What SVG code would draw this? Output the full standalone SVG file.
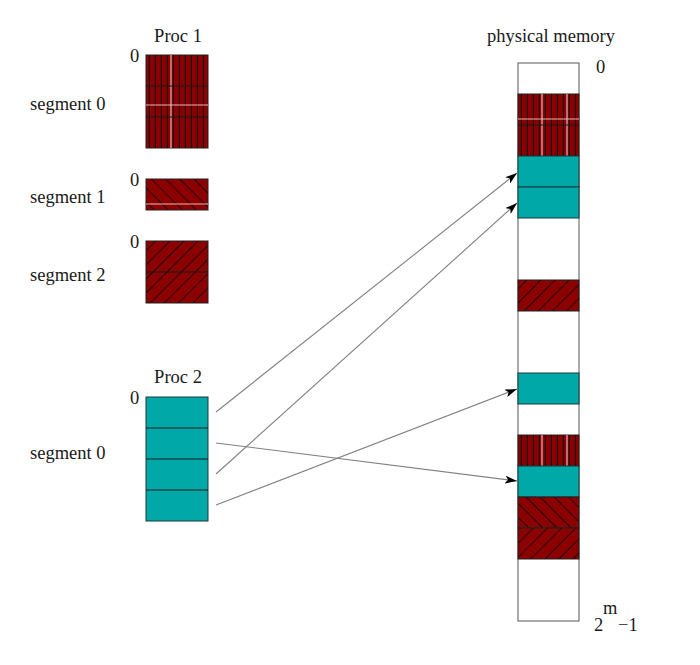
<svg xmlns="http://www.w3.org/2000/svg" width="700" height="665" viewBox="0 0 700 665">
  <style>
    text { font-family: "Liberation Serif", "Times New Roman", serif; font-size: 18.5px; fill: #1a1a1a; }
    .mid { text-anchor: middle; }
    .blk { stroke: #222; stroke-width: 1; }
    .teal { fill: #00a8a8; stroke: #1a3a3a; stroke-width: 1; }
    .white { fill: #ffffff; stroke: #555; stroke-width: 1; }
    .sep { stroke: #1a1a1a; stroke-width: 1.2; }
    .hl { stroke: #e8b8b8; stroke-width: 1.2; }
    .conn { stroke: #808080; stroke-width: 1.1; fill: none; marker-end: url(#arrow); }
  </style>
  <defs>
    <pattern id="vstripe" patternUnits="userSpaceOnUse" width="6" height="10">
      <rect width="6" height="10" fill="#8b0000"/>
      <line x1="5.5" y1="0" x2="5.5" y2="10" stroke="#1a0000" stroke-width="1.3"/>
    </pattern>
    <pattern id="bslash" patternUnits="userSpaceOnUse" width="10" height="10" patternTransform="rotate(-45)">
      <rect width="10" height="10" fill="#8b0000"/>
      <line x1="0.5" y1="0" x2="0.5" y2="10" stroke="#2a0000" stroke-width="1"/>
    </pattern>
    <pattern id="fslash" patternUnits="userSpaceOnUse" width="10" height="10" patternTransform="rotate(45)">
      <rect width="10" height="10" fill="#8b0000"/>
      <line x1="0.5" y1="0" x2="0.5" y2="10" stroke="#2a0000" stroke-width="1"/>
    </pattern>
    <marker id="arrow" viewBox="0 0 12 8" refX="12" refY="4" markerWidth="12" markerHeight="8" markerUnits="userSpaceOnUse" orient="auto">
      <path d="M0,0 L12,4 L0,8 L3,4 Z" fill="#000"/>
    </marker>
  </defs>

  <text class="mid" x="178" y="42">Proc 1</text>
  <text class="mid" x="551" y="42">physical memory</text>
  <text class="mid" x="178" y="383">Proc 2</text>

  <g id="proc1-seg0">
    <text x="130" y="62">0</text>
    <text x="30" y="110">segment 0</text>
    <rect x="146" y="55" width="62" height="93" fill="url(#vstripe)" class="blk"/>
    <line x1="171" y1="55" x2="171" y2="148" class="hl"/>
    <line x1="146" y1="105" x2="208" y2="105" class="hl"/>
    <line x1="146" y1="86" x2="208" y2="86" class="sep"/>
    <line x1="146" y1="117" x2="208" y2="117" class="sep"/>
  </g>

  <g id="proc1-seg1">
    <text x="130" y="186">0</text>
    <text x="30" y="203">segment 1</text>
    <rect x="146" y="179" width="62" height="31" fill="url(#bslash)" class="blk"/>
    <line x1="146" y1="204" x2="208" y2="204" class="hl"/>
  </g>

  <g id="proc1-seg2">
    <text x="130" y="248">0</text>
    <text x="30" y="281">segment 2</text>
    <rect x="146" y="241" width="62" height="62" fill="url(#fslash)" class="blk"/>
    <line x1="146" y1="272" x2="208" y2="272" class="sep"/>
  </g>

  <g id="proc2-seg0">
    <text x="130" y="404">0</text>
    <text x="30" y="459">segment 0</text>
    <rect x="146" y="397" width="62" height="124" class="teal"/>
    <line x1="146" y1="428" x2="208" y2="428" class="sep"/>
    <line x1="146" y1="459" x2="208" y2="459" class="sep"/>
    <line x1="146" y1="490" x2="208" y2="490" class="sep"/>
  </g>

  <g id="memory">
    <text x="596" y="73">0</text>
    <rect x="518" y="63" width="61" height="558" class="white"/>
    <rect x="518" y="94" width="61" height="62" fill="url(#vstripe)" class="blk"/>
    <line x1="542" y1="94" x2="542" y2="156" class="hl"/>
    <line x1="567" y1="94" x2="567" y2="156" class="hl"/>
    <line x1="518" y1="119" x2="579" y2="119" class="hl"/>
    <line x1="518" y1="125" x2="579" y2="125" class="sep"/>
    <rect x="518" y="156" width="61" height="31" class="teal"/>
    <rect x="518" y="187" width="61" height="31" class="teal"/>
    <rect x="518" y="280" width="61" height="31" fill="url(#fslash)" class="blk"/>
    <rect x="518" y="373" width="61" height="31" class="teal"/>
    <rect x="518" y="435" width="61" height="31" fill="url(#vstripe)" class="blk"/>
    <line x1="542" y1="435" x2="542" y2="466" class="hl"/>
    <line x1="567" y1="435" x2="567" y2="466" class="hl"/>
    <rect x="518" y="466" width="61" height="31" class="teal"/>
    <rect x="518" y="497" width="61" height="31" fill="url(#bslash)" class="blk"/>
    <rect x="518" y="528" width="61" height="31" fill="url(#fslash)" class="blk"/>
    <text x="594" y="631">2</text>
    <text x="603" y="614">m</text>
    <text x="618" y="631">−1</text>
  </g>

  <g id="connectors">
    <line x1="216" y1="412" x2="517" y2="173" class="conn"/>
    <line x1="216" y1="443" x2="517" y2="481" class="conn"/>
    <line x1="216" y1="474" x2="517" y2="203" class="conn"/>
    <line x1="216" y1="505" x2="517" y2="389" class="conn"/>
  </g>
</svg>
